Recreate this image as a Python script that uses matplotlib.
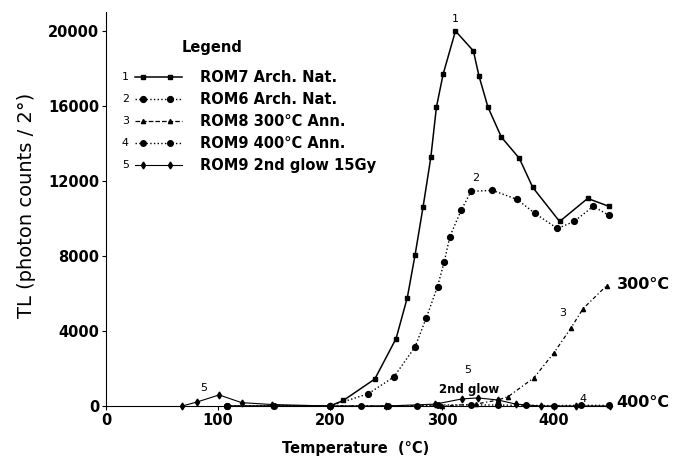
import matplotlib
matplotlib.use("Agg")
import matplotlib.pyplot as plt
from matplotlib.legend_handler import HandlerBase
from matplotlib.lines import Line2D
from matplotlib.text import Text

# curve 1: ROM7 Arch. Nat.
t1 = [108, 150, 200, 212, 240, 259, 269, 276, 283, 290, 295, 301, 312, 328, 333, 341, 353, 369, 381, 405, 430, 449]
y1 = [0, 0, 0, 300, 1440, 3600, 5780, 8080, 10590, 13260, 15940, 17700, 20000, 18940, 17600, 15940, 14340, 13210, 11660, 9840, 11070, 10650]

# curve 2: ROM6 Arch. Nat.
t2 = [108, 200, 234, 257, 276, 286, 296, 302, 307, 317, 326, 345, 367, 383, 403, 418, 435, 449]
y2 = [0, 0, 650, 1550, 3160, 4710, 6370, 7700, 9040, 10430, 11450, 11500, 11020, 10270, 9470, 9840, 10650, 10170]

# curve 3: ROM8 300C Ann.
t3 = [200, 250, 300, 330, 350, 359, 382, 400, 415, 426, 447]
y3 = [0, 0, 0, 100, 320, 500, 1500, 2840, 4150, 5200, 6420]

# curve 4: ROM9 400C Ann.
t4 = [108, 150, 200, 228, 252, 278, 296, 326, 350, 375, 400, 424, 449]
y4 = [0, 0, 0, 0, 0, 0, 50, 60, 50, 30, 20, 40, 30]

# curve 5: ROM9 2nd glow 15Gy
t5 = [68, 81, 101, 121, 148, 200, 250, 294, 318, 332, 350, 366, 388, 420, 450]
y5 = [0, 210, 590, 180, 80, 0, 0, 100, 380, 430, 320, 100, 0, 0, 0]

labels = ["ROM7 Arch. Nat.", "ROM6 Arch. Nat.", "ROM8 300\u00b0C Ann.",
          "ROM9 400\u00b0C Ann.", "ROM9 2nd glow 15Gy"]
xticks = [0, 100, 200, 300, 400]
yticks = [0, 4000, 8000, 12000, 16000, 20000]


class NumHandler(HandlerBase):
    # legend entry: number, then line with two markers
    def __init__(self, num):
        super().__init__()
        self.num = num

    def create_artists(self, legend, orig, xdescent, ydescent, width, height, fontsize, trans):
        y = height / 2 - ydescent
        x0 = -xdescent
        txt = Text(x0, y, self.num, fontsize=fontsize * 0.75, va="center", ha="left",
                   family="DejaVu Sans", transform=trans)
        ln = Line2D([x0 + 0.22 * width, x0 + width], [y, y], ls=orig.get_linestyle(),
                    color="black", lw=orig.get_linewidth(), transform=trans)
        mk = Line2D([x0 + 0.35 * width, x0 + 0.8 * width], [y, y], ls="none",
                    marker=orig.get_marker(), ms=orig.get_markersize(), color="black",
                    transform=trans)
        return [txt, ln, mk]


fig = plt.figure(figsize=(6.81, 4.62), dpi=100)
ax = fig.add_axes([0.1557, 0.1212, 0.8223, 0.8523])

kw = dict(color="black", clip_on=False)
l1, = ax.plot(t1, y1, ls="-", lw=1.1, marker="s", ms=3.5, **kw)
l2, = ax.plot(t2, y2, ls=":", lw=1.0, marker="o", ms=4.2, **kw)
l3, = ax.plot(t3, y3, ls=(0, (3, 2, 1, 2)), lw=0.9, marker="^", ms=3, **kw)
l4, = ax.plot(t4, y4, ls=":", lw=1.0, marker="o", ms=4, **kw)
l5, = ax.plot(t5, y5, ls="-", lw=0.8, marker="d", ms=3.5, **kw)

ax.set_xlim(0, 500)
ax.set_ylim(0, 21000)
ax.spines["top"].set_visible(False)
ax.spines["right"].set_visible(False)
ax.spines["bottom"].set_bounds(0, 450)
ax.set_xticks(xticks)
ax.set_yticks(yticks)
ax.set_xticklabels([str(v) for v in xticks], fontweight="bold", fontsize=10.5, family="DejaVu Sans")
ax.set_yticklabels([str(v) for v in yticks], fontweight="bold", fontsize=10.5, family="DejaVu Sans")
ax.tick_params(direction="out", length=3, width=0.8, pad=2)

ax.set_xlabel("Temperature  (\u00b0C)", fontsize=10.5, fontweight="bold", family="DejaVu Sans")
ax.xaxis.set_label_coords(0.446, -0.09)
ax.set_ylabel("TL (photon counts / 2\u00b0)", fontsize=14, family="DejaVu Sans")
ax.yaxis.set_label_coords(-0.125, 0.51)

# curve annotations
ax.text(312, 20350, "1", fontsize=8, ha="center", va="bottom")
ax.text(330, 11900, "2", fontsize=8, ha="center", va="bottom")
ax.text(408, 4700, "3", fontsize=8, ha="center", va="bottom")
ax.text(426, 100, "4", fontsize=8, ha="center", va="bottom")
ax.text(87, 700, "5", fontsize=8, ha="center", va="bottom")
ax.text(323, 1650, "5", fontsize=8, ha="center", va="bottom")
ax.text(324, 550, "2nd glow", fontsize=8.5, fontweight="bold", ha="center", va="bottom")
ax.text(456, 6500, "300\u00b0C", fontsize=11.5, fontweight="bold", ha="left", va="center",
        family="DejaVu Sans")
ax.text(456, 200, "400\u00b0C", fontsize=11.5, fontweight="bold", ha="left", va="center",
        family="DejaVu Sans")

handles = [l1, l2, l3, l4, l5]
leg = ax.legend(handles, labels, loc="upper left", bbox_to_anchor=(0.028, 0.853),
                frameon=False, handlelength=4.1, handletextpad=1.3, labelspacing=0.48,
                borderaxespad=0, borderpad=0,
                prop={"family": "DejaVu Sans", "weight": "bold", "size": 10.5},
                handler_map={h: NumHandler(str(i + 1)) for i, h in enumerate(handles)})
ax.text(0.135, 0.891, "Legend", transform=ax.transAxes, fontsize=10.5, fontweight="bold",
        family="DejaVu Sans", ha="left", va="bottom")

fig.savefig("out.png", dpi=100)
